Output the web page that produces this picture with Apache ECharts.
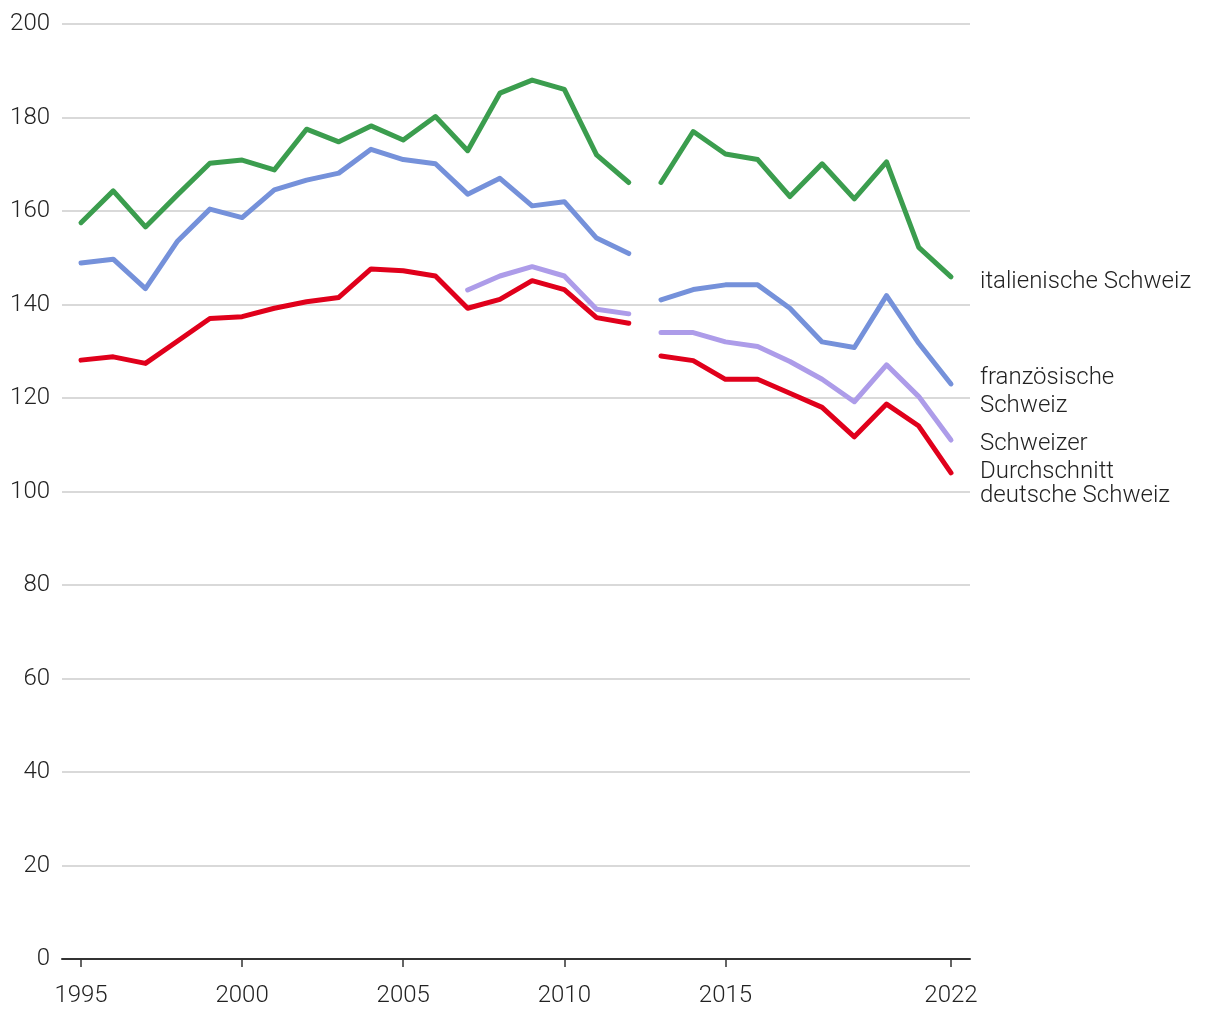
<!DOCTYPE html>
<html>
<head>
<meta charset="utf-8">
<script src="https://cdn.jsdelivr.net/npm/echarts@6/dist/echarts.min.js"></script>
<style>html,body{margin:0;padding:0;background:#fff}#c{width:1220px;height:1020px}</style>
</head>
<body>
<div id="c"></div>
<script>
var years = [1995,1996,1997,1998,1999,2000,2001,2002,2003,2004,2005,2006,2007,2008,2009,2010,2011,2012,2013,2014,2015,2016,2017,2018,2019,2020,2021,2022];
var xTickYears = [1995,2000,2005,2010,2015,2022];
var yTicks = [0,20,40,60,80,100,120,140,160,180,200];
var italienisch = [157.5,164.3,156.6,163.5,170.2,170.9,168.8,177.5,174.8,178.2,175.2,180.2,172.9,185.2,188.0,186.0,172.0,166.1,166.1,177.0,172.2,171.0,163.1,170.1,162.6,170.5,152.2,145.9];
var franzoesisch = [148.9,149.7,143.4,153.6,160.4,158.6,164.5,166.6,168.1,173.2,171.0,170.1,163.6,167.0,161.1,162.0,154.2,150.9,141.0,143.2,144.2,144.2,139.2,132.0,130.8,141.9,131.7,123.0];
var durchschnitt = [null,null,null,null,null,null,null,null,null,null,null,null,143.1,146.1,148.1,146.1,139.0,138.0,134.0,134.0,132.0,131.0,127.8,124.0,119.2,127.1,120.3,111.0];
var deutsch = [128.1,128.8,127.4,132.2,137.0,137.4,139.2,140.6,141.5,147.6,147.2,146.1,139.2,141.1,145.1,143.2,137.2,136.0,129.0,128.0,124.0,124.0,121.0,118.0,111.7,118.7,114.0,104.0];
var names = ['italienische Schweiz','französische\nSchweiz','Schweizer\nDurchschnitt','deutsche Schweiz'];
var colors = ['#3b9d4e','#7591da','#ad9ce9','#e0001b'];
var labelDy = [5,8,18,23];
var breakIndex = 18; // first year of second segment (2013)

var allData = [italienisch, franzoesisch, durchschnitt, deutsch];
var series = [];
var order = [2,1,0,3];
order.forEach(function(k){
  var vals = allData[k];
  var seg1 = [], seg2 = [];
  years.forEach(function(y,i){
    if (vals[i] === null) return;
    if (i < breakIndex) seg1.push([y, vals[i]]); else seg2.push([y, vals[i]]);
  });
  [seg1, seg2].forEach(function(seg, si){
    var s = {
      type:'line', name:names[k], data:seg, showSymbol:false, symbol:'none',
      lineStyle:{color:colors[k], width:5, cap:'round', join:'round'},
      itemStyle:{color:colors[k]}, silent:true, animation:false, z: 2
    };
    if (si === 1) {
      s.endLabel = {show:true, formatter:names[k], color:'#222', fontFamily:'Roboto', fontWeight:300,
        fontSize:24, lineHeight:28, distance:29, offset:[0, labelDy[k]]};
    }
    series.push(s);
  });
});

var chart = echarts.init(document.getElementById('c'), null, {renderer:'canvas'});
chart.setOption({
  animation:false,
  grid:{left:62, right:250, top:24, bottom:61, containLabel:false},
  xAxis:{
    type:'value', min:1994.41, max:2022.59,
    axisLine:{show:true, lineStyle:{color:'#333', width:2}},
    axisTick:{show:true, customValues:xTickYears, length:8, lineStyle:{color:'#333', width:1.5}},
    axisLabel:{customValues:xTickYears, color:'#222', fontFamily:'Roboto', fontWeight:300, fontSize:24, margin:25,
      formatter:function(v){return String(v);}},
    splitLine:{show:false}
  },
  yAxis:{
    type:'value', min:0, max:200, interval:20,
    axisLine:{show:false}, axisTick:{show:false},
    axisLabel:{color:'#222', fontFamily:'Roboto', fontWeight:300, fontSize:24, margin:12},
    splitLine:{show:true, lineStyle:{color:'#cccccc', width:1.5}}
  },
  series:series
});
</script>
</body>
</html>
